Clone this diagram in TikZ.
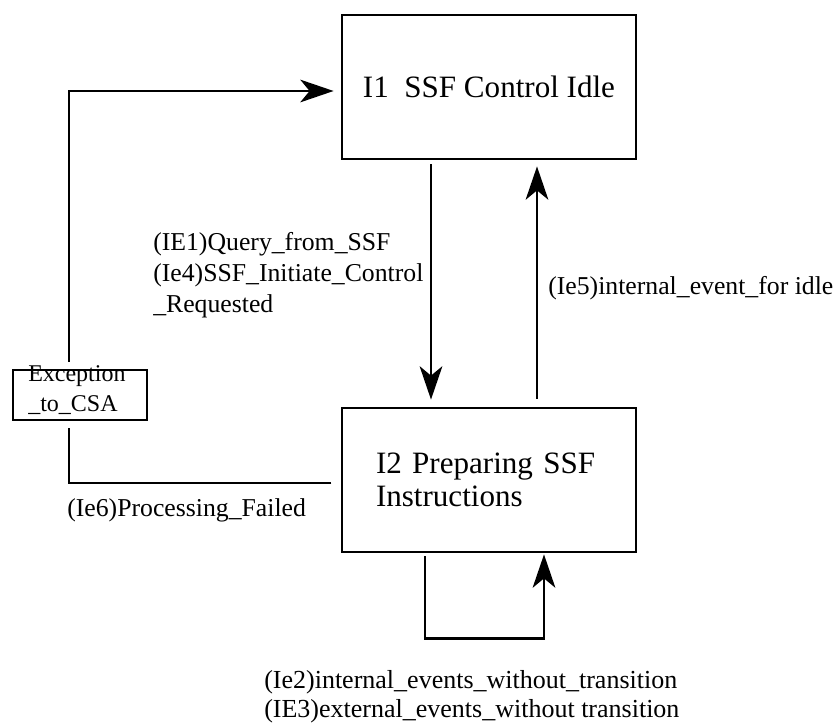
\documentclass[tikz,border=0pt]{standalone}
\usepackage{fontspec}
\setmainfont{Liberation Serif}
\usepackage{tikz}
\usetikzlibrary{arrows.meta}

\tikzset{state/.style={draw,line width=2.1pt,minimum width=220.5pt,minimum height=108pt,inner sep=0pt,font=\fontsize{23.3}{24.75}\selectfont},
  lbl/.style={inner sep=0pt,anchor=base west,align=left,font=\fontsize{19.3}{23.25}\selectfont},
  arr/.style={line width=1.8pt,-{Stealth[length=25pt,width=17pt,inset=7pt]}},
  ln/.style={line width=1.8pt}}

\begin{document}
\begin{tikzpicture}[x=0.75pt,y=-0.75pt]
      \useasboundingbox (0,0) rectangle (833,727);
      \node[state] (idle) at (489,87) {I1~~SSF Control Idle};
      \node[state,text width=169.5pt,align=left] (prep) at (489,480) {I2 Preparing SSF\\Instructions};
      \node[draw,line width=1.8pt,minimum width=100.5pt,minimum height=37.5pt,inner sep=0pt] (exc) at (80,395) {};
      \node[lbl,font=\fontsize{18}{22.5}\selectfont] (exctxt) at (28,412) {Exception\\\_to\_CSA};
      \node[lbl] (query) at (153,313) {(IE1)Query\_from\_SSF\\(Ie4)SSF\_Initiate\_Control\\\_Requested};
      \node[lbl] (ievidle) at (548,295) {(Ie5)internal\_event\_for idle};
      \node[lbl] (failed) at (67,517) {(Ie6)Processing\_Failed};
      \node[lbl,font=\fontsize{19.5}{21.5}\selectfont] (noevt) at (264,717) {(Ie2)internal\_events\_without\_transition\\(IE3)external\_events\_without transition};
      \draw[arr] ([xshift=-43.5pt,yshift=-3pt]idle.south) -- ([xshift=-43.5pt,yshift=5.25pt]prep.north);
      \draw[arr] ([xshift=36pt,yshift=6pt]prep.north) -- ([xshift=36pt,yshift=-4.5pt]idle.south);
      \draw[ln] ([xshift=-7pt,yshift=-2.25pt]prep.west) -| ([xshift=-8.25pt,yshift=-5.25pt]exc.south);
      \draw[arr] ([xshift=-8.25pt,yshift=5.25pt]exc.north) |- ([xshift=-5.25pt,yshift=-3pt]idle.west);
      \draw[arr] ([xshift=-48pt,yshift=-2.25pt]prep.south) -- ++(0,82) -| ([xshift=41.25pt,yshift=-0.75pt]prep.south);
\end{tikzpicture}
\end{document}
